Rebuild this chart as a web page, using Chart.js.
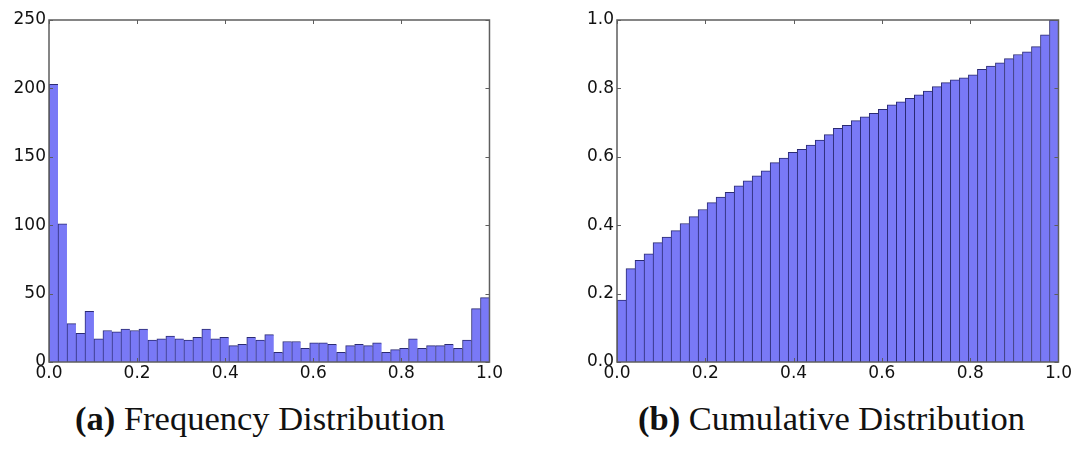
<!DOCTYPE html>
<html>
<head>
<meta charset="utf-8">
<script src="https://cdn.jsdelivr.net/npm/chart.js@4"></script>
<style>
  body { margin: 0; background: #fff; }
  #wrap { position: relative; width: 1080px; height: 451px; overflow: hidden; }
  .box { position: absolute; top: 0; height: 392px; }
  .cap { position: absolute; top: 401px; font-family: "Liberation Serif", serif; font-size: 33px; color: #111;
    white-space: nowrap; transform-origin: left top; }
  .cap b { font-weight: bold; }
</style>
</head>
<body>
<div id="wrap">
  <div class="box" style="left:0; width:504px;"><canvas id="freq"></canvas></div>
  <div class="box" style="left:560px; width:513px;"><canvas id="cum"></canvas></div>
  <div class="cap" id="capA" style="left:75px;" data-w="370"><b>(a)</b> Frequency Distribution</div>
  <div class="cap" id="capB" style="left:638px;" data-w="387"><b>(b)</b> Cumulative Distribution</div>
</div>
<script>
// 49 equal bins over [0, 1]
const binCount = 49;
const binCenters = Array.from({ length: binCount }, (_, i) => (i + 0.5) / binCount);

// counts per bin (left panel)
const freqCounts = [203, 101, 28, 21, 37, 17, 23, 22, 24, 23, 24, 16, 17, 19, 17, 16, 18, 24, 17, 18,
  12, 13, 18, 16, 20, 7, 15, 15, 10, 14, 14, 13, 7, 12, 13, 12, 14, 7, 9, 10,
  17, 10, 12, 12, 13, 10, 16, 39, 47];

// cumulative share per bin (right panel)
const cumShare = [0.181, 0.273, 0.297, 0.316, 0.349, 0.365, 0.384, 0.405, 0.425, 0.446,
  0.466, 0.482, 0.496, 0.515, 0.530, 0.544, 0.559, 0.583, 0.596, 0.613,
  0.622, 0.634, 0.649, 0.665, 0.683, 0.692, 0.706, 0.717, 0.727, 0.739,
  0.752, 0.761, 0.771, 0.781, 0.792, 0.805, 0.817, 0.825, 0.831, 0.840,
  0.856, 0.865, 0.875, 0.887, 0.899, 0.907, 0.922, 0.957, 1.0];

const xTicks = [0, 0.2, 0.4, 0.6, 0.8, 1.0];
const freqTicks = [0, 50, 100, 150, 200, 250];
const cumTicks = [0, 0.2, 0.4, 0.6, 0.8, 1.0];

const tickFont = { family: 'DejaVu Sans', size: 17 };

// frame + inward tick marks, matplotlib style
const framePlugin = {
  id: 'frame',
  afterDraw(chart) {
    const { ctx, chartArea: a, scales } = chart;
    ctx.save();
    ctx.strokeStyle = '#5e5e5e';
    ctx.lineWidth = 1;
    scales.x.ticks.forEach(t => {
      const px = Math.round(scales.x.getPixelForValue(t.value)) + 0.5;
      ctx.beginPath();
      ctx.moveTo(px, a.top); ctx.lineTo(px, a.top + 4);
      ctx.moveTo(px, a.bottom); ctx.lineTo(px, a.bottom - 4);
      ctx.stroke();
    });
    scales.y.ticks.forEach(t => {
      const py = Math.round(scales.y.getPixelForValue(t.value)) + 0.5;
      ctx.beginPath();
      ctx.moveTo(a.left, py); ctx.lineTo(a.left + 4, py);
      ctx.moveTo(a.right, py); ctx.lineTo(a.right - 4, py);
      ctx.stroke();
    });
    ctx.lineWidth = 1.5;
    ctx.strokeRect(a.left, a.top, a.right - a.left, a.bottom - a.top);
    ctx.restore();
  }
};

function makeHist(id, values, yTicks, yMax, yWidth, fmt) {
  return new Chart(document.getElementById(id), {
    type: 'bar',
    data: {
      datasets: [{
        data: values.map((v, i) => ({ x: binCenters[i], y: v })),
        backgroundColor: '#7979f6',
        borderColor: 'rgba(20,20,100,0.9)',
        borderWidth: { top: 1, left: 1, right: 0, bottom: 0 },
        borderSkipped: false,
        categoryPercentage: 1.0,
        barPercentage: 1.0
      }]
    },
    options: {
      responsive: true,
      maintainAspectRatio: false,
      animation: false,
      layout: { padding: { top: 20, right: 0, left: 0, bottom: 0 } },
      plugins: { legend: { display: false }, tooltip: { enabled: false } },
      scales: {
        x: {
          type: 'linear',
          min: 0, max: 1,
          offset: false,
          afterBuildTicks: s => { s.ticks = xTicks.map(v => ({ value: v })); },
          afterFit: s => { s.height = 30; },
          grid: { display: false, drawTicks: false },
          border: { display: false },
          ticks: { color: '#111', font: tickFont, padding: 1, maxRotation: 0, autoSkip: false,
            callback: v => v.toFixed(1) }
        },
        y: {
          min: 0, max: yMax,
          afterBuildTicks: s => { s.ticks = yTicks.map(v => ({ value: v })); },
          afterFit: s => { s.width = yWidth; },
          grid: { display: false, drawTicks: false },
          border: { display: false },
          ticks: { color: '#111', font: tickFont, padding: 3, callback: fmt }
        }
      }
    },
    plugins: [framePlugin]
  });
}

makeHist('freq', freqCounts, freqTicks, 250, 49, v => String(v));
makeHist('cum', cumShare, cumTicks, 1, 57, v => v.toFixed(1));

// stretch captions to the width of the LaTeX captions in the original
document.querySelectorAll('.cap').forEach(el => {
  const w = el.getBoundingClientRect().width;
  el.style.transform = `scaleX(${Number(el.dataset.w) / w})`;
});
</script>
</body>
</html>
